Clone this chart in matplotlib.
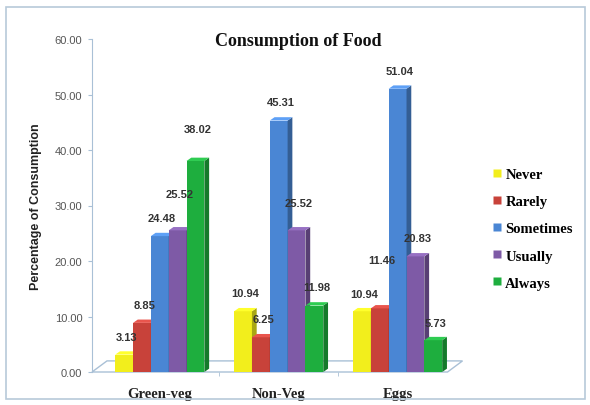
import numpy as np
import matplotlib.pyplot as plt
from matplotlib.patches import Polygon, Rectangle
from matplotlib.lines import Line2D
import matplotlib.colors as mcolors

# --- data ---
categories = ['Green-veg', 'Non-Veg', 'Eggs']
series = ['Never', 'Rarely', 'Sometimes', 'Usually', 'Always']
never = [3.13, 10.94, 10.94]
rarely = [8.85, 6.25, 11.46]
sometimes = [24.48, 45.31, 51.04]
usually = [25.52, 25.52, 20.83]
always = [38.02, 11.98, 5.73]
values = [never, rarely, sometimes, usually, always]

# label offsets above the bar top (as placed in the original)
label_dy = [[3.2, 3.3, 3.1],
            [3.2, 3.3, 8.7],
            [3.2, 3.3, 3.2],
            [6.6, 5.0, 3.3],
            [5.8, 3.3, 3.1]]

colors = ['#F2EE1C', '#C8423A', '#4A86D4', '#7E5AA6', '#1EAE3E']

fig = plt.figure(figsize=(5.9, 4.06), dpi=100)
ax = fig.add_axes([92 / 590, 33 / 406, (463 - 92) / 590, (373 - 40) / 406])

x = np.arange(len(categories))
w = 0.15
dx, dy = 0.04, 0.6   # 3d depth of bars

# floor
fdx, fdy = 0.126, 2.0
xl, xr = -0.57, 2.42
floor = Polygon([(xl, 0), (xr, 0), (xr + fdx, fdy), (xl + fdx, fdy)], closed=True,
                facecolor='none', edgecolor='#A9C0D6', lw=1.0, clip_on=False, zorder=1)
ax.add_patch(floor)

for i, (name, vals) in enumerate(zip(series, values)):
    pos = x + (i - 2) * w
    c = colors[i]
    dark = tuple(v * 0.7 for v in mcolors.to_rgb(c))
    light = tuple(min(1, v * 1.1 + 0.05) for v in mcolors.to_rgb(c))
    ax.bar(pos, vals, width=w, color=c, zorder=3, linewidth=0)
    for p, v, off in zip(pos, vals, label_dy[i]):
        r = p + w / 2
        l = p - w / 2
        ax.add_patch(Polygon([(r, 0), (r + dx, dy), (r + dx, v + dy), (r, v)],
                             closed=True, facecolor=dark, lw=0, zorder=3, clip_on=False))
        ax.add_patch(Polygon([(l, v), (l + dx, v + dy), (r + dx, v + dy), (r, v)],
                             closed=True, facecolor=light, lw=0, zorder=3, clip_on=False))
        ax.text(p + 0.02, v + off, f'{v:.2f}', ha='center', va='center',
                fontsize=8, fontweight='bold', color='#333333',
                family='Liberation Sans', zorder=5)

ax.set_xlim(-0.57, 2.55)
ax.set_ylim(0, 60)
ax.set_yticks(np.arange(0, 61, 10))
ax.set_yticklabels([f'{t:.2f}' for t in np.arange(0, 61, 10)])
ax.tick_params(axis='y', labelsize=8, colors='#A9C0D6', labelcolor='#555555',
               length=3, pad=4)
ax.set_xticks(x)
ax.set_xticklabels(categories, family='Liberation Serif', fontweight='bold',
                   fontsize=10.5, color='#222222')
ax.set_xticks([0.5, 1.5], minor=True)
ax.tick_params(axis='x', which='major', length=0, pad=11)
ax.tick_params(axis='x', which='minor', length=3, colors='#A9C0D6')
for lab in ax.get_yticklabels():
    lab.set_family('Liberation Sans')

for s in ['top', 'right', 'bottom']:
    ax.spines[s].set_visible(False)
ax.spines['left'].set_color('#A9C0D6')

ax.set_ylabel('Percentage of Consumption', fontsize=9, fontweight='bold',
              family='Liberation Sans', color='#222222', labelpad=9)
fig.text(298 / 590, 1 - 42 / 406, 'Consumption of Food', ha='center', va='center',
         fontsize=13, fontweight='bold', family='Liberation Serif', color='#111111')

handles = [Line2D([0], [0], marker='s', linestyle='none', markersize=6,
                  markerfacecolor=c, markeredgecolor='none') for c in colors]
leg = fig.legend(handles, series, loc='upper left', bbox_to_anchor=(479 / 590, 1 - 156 / 406),
                 frameon=False, handlelength=0.6, handletextpad=0.3, labelspacing=0.95,
                 prop={'family': 'Liberation Serif', 'weight': 'bold', 'size': 10.5})

fig.patches.append(Rectangle((6 / 590, 6 / 406), 579 / 590, 392 / 406,
                             transform=fig.transFigure, fill=False,
                             edgecolor='#B8CAD9', lw=1.2))

fig.savefig('out.png', dpi=100)
